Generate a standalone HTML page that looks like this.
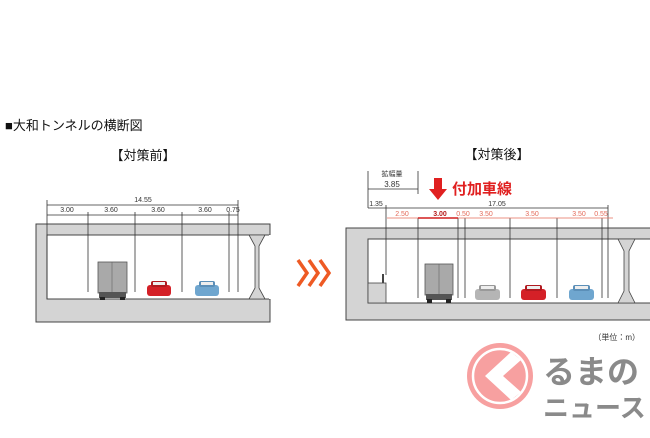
<!DOCTYPE html>
<html><head><meta charset="utf-8"><style>
body{margin:0;background:#fff;width:650px;height:433px;overflow:hidden}
svg text{font-family:"Liberation Sans","Noto Sans CJK JP",sans-serif}
</style></head><body>
<svg width="650" height="433" viewBox="0 0 650 433" xmlns="http://www.w3.org/2000/svg">
<text x="5" y="130" font-size="13" fill="#111">■大和トンネルの横断図</text>
<text x="143" y="160" font-size="13" fill="#111" text-anchor="middle">【対策前】</text>
<text x="497" y="159" font-size="13" fill="#111" text-anchor="middle">【対策後】</text>

<!-- left tunnel -->
<rect x="36" y="224" width="234" height="98" fill="#d4d4d4" stroke="#444"/>
<rect x="47" y="235" width="223" height="64" fill="#fff" stroke="#444"/>
<path d="M249 235 L265 235 L259 246 L259 288 L265 299 L249 299 L255 288 L255 246 Z" fill="#d4d4d4" stroke="#444" stroke-width="0.8"/>
<path d="M270 235 V299" stroke="#fff" stroke-width="2"/>
<g stroke="#333" stroke-width="0.8" fill="none">
<path d="M47 205 H238 M47 215 H238 M47 200 V299 M238 200 V292"/>
<path d="M88 212 V292 M135 212 V292 M182 212 V292 M229 212 V292"/>
</g>
<g font-size="7" fill="#333" text-anchor="middle">
<text x="143" y="202">14.55</text>
<text x="67" y="212">3.00</text><text x="111" y="212">3.60</text><text x="158" y="212">3.60</text><text x="205" y="212">3.60</text><text x="233" y="212">0.75</text>
</g>
<rect x="98" y="262" width="29" height="31" fill="#a9a9a9" stroke="#555" stroke-width="0.8"/>
<path d="M112 262 V293" stroke="#666" stroke-width="0.6"/>
<rect x="99" y="292" width="27" height="6" fill="#555"/>
<rect x="100" y="297" width="5" height="3" fill="#222"/><rect x="120" y="297" width="5" height="3" fill="#222"/>
<g><rect x="147" y="285" width="24" height="11" rx="3" fill="#d42027"/><rect x="151" y="281" width="16" height="6" rx="2" fill="#b01a20"/><rect x="153" y="282" width="12" height="3" fill="#eee"/></g>
<g><rect x="195" y="285" width="24" height="11" rx="3" fill="#6fa6cf"/><rect x="199" y="281" width="16" height="6" rx="2" fill="#5b8fb8"/><rect x="201" y="282" width="12" height="3" fill="#eee"/></g>

<g fill="none" stroke="#ee5a24" stroke-width="3.5">
<path d="M298 260 L307 273 L298 286"/><path d="M309 260 L318 273 L309 286"/><path d="M320 260 L329 273 L320 286"/>
</g>

<!-- right tunnel -->
<rect x="346" y="228" width="310" height="92" fill="#d4d4d4" stroke="#444"/>
<rect x="368" y="239" width="290" height="64" fill="#fff" stroke="#444"/>
<path d="M618 239 L635 239 L629 251 L629 291 L635 303 L618 303 L624 291 L624 251 Z" fill="#d4d4d4" stroke="#444" stroke-width="0.8"/>
<rect x="368" y="283" width="18" height="20" fill="#d4d4d4" stroke="#444" stroke-width="0.8"/>
<rect x="382" y="274" width="2" height="9" fill="#444"/>
<g stroke="#333" stroke-width="0.8" fill="none">
<path d="M368 171 V208 M418 171 V194 M368 189 H418"/>
<path d="M368 208 H608 M386 205 V275 M608 205 V298"/>
<path d="M418 218 V298 M458 218 V298 M465 218 V298 M510 218 V298 M557 218 V298 M602 218 V298"/>
</g>
<path d="M387 218 H613" stroke="#e46b5a" stroke-width="0.8"/>
<path d="M418 218 H458" stroke="#d21f1f" stroke-width="1.6"/>
<g font-size="7" fill="#333" text-anchor="middle">
<text x="392" y="176">拡幅量</text><text x="392" y="187" font-size="8">3.85</text>
<text x="376" y="206">1.35</text><text x="497" y="206">17.05</text>
</g>
<g font-size="7" fill="#e46b5a" text-anchor="middle">
<text x="402" y="216">2.50</text><text x="463" y="216">0.50</text><text x="486" y="216">3.50</text><text x="532" y="216">3.50</text><text x="579" y="216">3.50</text><text x="601" y="216">0.55</text>
</g>
<text x="440" y="216" font-size="7" font-weight="bold" fill="#b51a1a" text-anchor="middle">3.00</text>
<path d="M434 178 H442 V189 H447 L438 200 L429 189 H434 Z" fill="#e02020"/>
<text x="452" y="194" font-size="15" font-weight="bold" fill="#e02020">付加車線</text>
<rect x="425" y="264" width="28" height="31" fill="#a9a9a9" stroke="#555" stroke-width="0.8"/>
<path d="M439 264 V295" stroke="#666" stroke-width="0.6"/>
<rect x="426" y="294" width="26" height="6" fill="#555"/>
<rect x="427" y="299" width="5" height="4" fill="#222"/><rect x="446" y="299" width="5" height="4" fill="#222"/>
<g><rect x="475" y="289" width="25" height="11" rx="3" fill="#b5b5b5"/><rect x="479" y="285" width="17" height="6" rx="2" fill="#999"/><rect x="481" y="286" width="13" height="3" fill="#eee"/></g>
<g><rect x="521" y="289" width="25" height="11" rx="3" fill="#d42027"/><rect x="525" y="285" width="17" height="6" rx="2" fill="#b01a20"/><rect x="527" y="286" width="13" height="3" fill="#eee"/></g>
<g><rect x="569" y="289" width="25" height="11" rx="3" fill="#6fa6cf"/><rect x="573" y="285" width="17" height="6" rx="2" fill="#5b8fb8"/><rect x="575" y="286" width="13" height="3" fill="#eee"/></g>

<text x="640" y="340" font-size="8" fill="#333" text-anchor="end">（単位：m）</text>

<circle cx="500" cy="376" r="33" fill="#f7a0a0"/>
<circle cx="500" cy="376" r="27" fill="none" stroke="#fff" stroke-width="2.5"/>
<path d="M511 352 L485 376 L511 400 L521 392 L503 376 L521 360 Z" fill="#fff"/>
<text x="543" y="383" font-size="32" font-weight="bold" fill="#8a8a8a">るまの</text>
<text x="543" y="417" font-size="26" font-weight="bold" fill="#8a8a8a">ニュース</text>
</svg>
</body></html>
